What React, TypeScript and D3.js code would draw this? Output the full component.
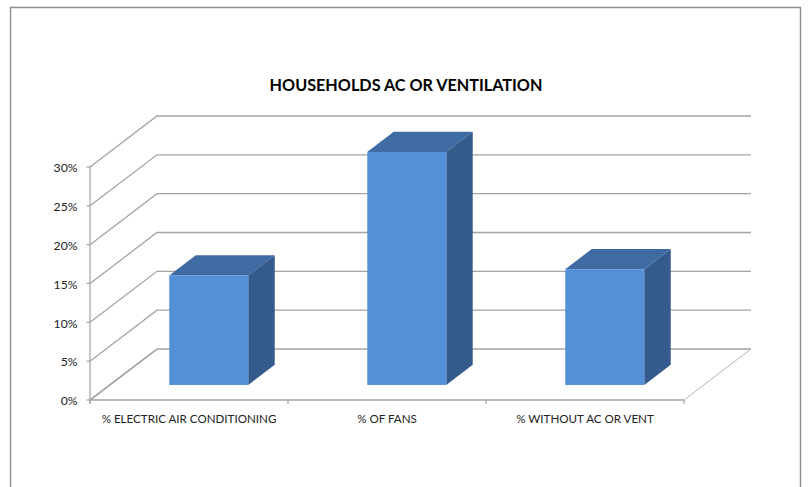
import React from "react";
import * as d3 from "d3";

const categories = ["% ELECTRIC AIR CONDITIONING", "% OF FANS", "% WITHOUT AC OR VENT"];
const values = [14.1, 30, 14.9];
const yTicks = [0, 5, 10, 15, 20, 25, 30];
const title = "HOUSEHOLDS AC OR VENTILATION";

const W = 810, H = 487;
const frontLeft = 90, frontRight = 684, frontBottom = 400, frontTop = 167;
const depthX = 67, depthY = -51;
const barWidth = 79;
const barZStart = 0.295, barZDepth = 0.395;

const y = d3.scaleLinear().domain([0, 30]).range([frontBottom, frontTop]);
const x = d3.scaleBand<string>().domain(categories).range([frontLeft, frontRight]);
const font = "Lato, Carlito, 'Open Sans', sans-serif";
const GRID = "#a3a3a3";

export default function App() {
  const line = d3.line();
  return (
    <svg width={W} height={H} style={{ position: "absolute", left: 0, top: 0, background: "#fff" }}>
      <path d={`M10.5 ${H}V7.5H800.5V${H}`} fill="none" stroke="#8c8c8c" strokeWidth={1.4} />
      <text x={406} y={90.6} textAnchor="middle" fontFamily={font} fontWeight={700} fontSize={16.2} fill="#000">{title}</text>

      {yTicks.map((t) => {
        const yy = y(t);
        return (
          <g key={t}>
            <path
              d={line([[frontLeft, yy], [frontLeft + depthX, yy + depthY], [frontRight + depthX, yy + depthY]])!}
              fill="none" stroke={GRID} strokeWidth={t === 0 ? 1.6 : 1.3} />
            <line x1={frontLeft - 3.5} x2={frontLeft} y1={yy} y2={yy} stroke={GRID} strokeWidth={1.2} />
            <text x={77.5} y={yy + 5.3} textAnchor="end" fontFamily={font} fontSize={12.2} fill="#222">{t}%</text>
          </g>
        );
      })}

      <line x1={frontRight} y1={frontBottom} x2={frontRight + depthX} y2={frontBottom + depthY} stroke="#b5b5b5" strokeWidth={1} />
      <line x1={frontLeft} x2={frontLeft} y1={frontTop} y2={frontBottom + 4} stroke={GRID} strokeWidth={1.2} />
      <line x1={frontLeft} x2={frontRight} y1={frontBottom} y2={frontBottom} stroke={GRID} strokeWidth={1.4} />
      {[...categories.map((c) => x(c)!), frontRight].map((tx) => (
        <line key={tx} x1={tx} x2={tx} y1={frontBottom} y2={frontBottom + 4} stroke={GRID} strokeWidth={1.2} />
      ))}

      {categories.map((c, i) => {
        const cx = x(c)! + x.bandwidth() / 2 + barZStart * depthX;
        const x0 = cx - barWidth / 2, x1 = cx + barWidth / 2;
        const shift = barZStart * depthY;
        const yb = y(0) + shift, yt = y(values[i]) + shift;
        const dx = barZDepth * depthX, dy = barZDepth * depthY;
        return (
          <g key={c}>
            <path d={line([[x0, yt], [x0 + dx, yt + dy], [x1 + dx, yt + dy], [x1, yt]])! + "Z"} fill="#3f6ba3" />
            <path d={line([[x1, yt], [x1 + dx, yt + dy], [x1 + dx, yb + dy], [x1, yb]])! + "Z"} fill="#345b8b" />
            <rect x={x0} y={yt} width={barWidth} height={yb - yt} fill="#5490d8" />
            <text x={x(c)! + x.bandwidth() / 2} y={frontBottom + 22.5} textAnchor="middle" fontFamily={font} fontSize={11.6} fill="#222">{c}</text>
          </g>
        );
      })}
    </svg>
  );
}
